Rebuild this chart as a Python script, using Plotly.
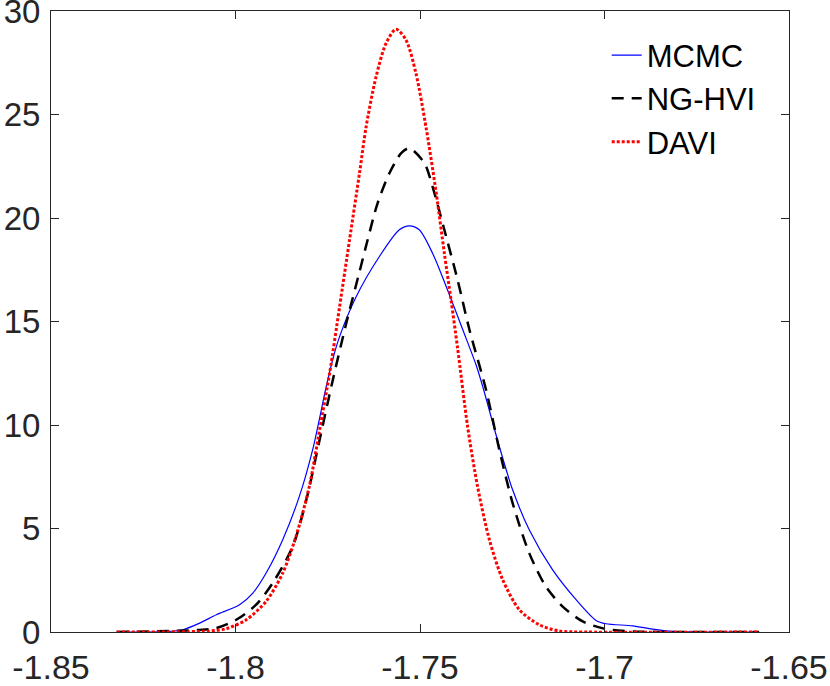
import plotly.graph_objects as go

# MCMC kernel density
mcmc_x = [-1.8322, -1.8187, -1.8143, -1.8097, -1.8052, -1.7989, -1.7953, -1.7917, -1.7872,
          -1.7827, -1.7791, -1.7754, -1.7736, -1.7718, -1.7673, -1.7610, -1.7556, -1.7529,
          -1.7502, -1.7466, -1.7429, -1.7384, -1.7348, -1.7330, -1.7285, -1.7249, -1.7204,
          -1.7141, -1.7077, -1.7023, -1.6996, -1.6924, -1.6870, -1.6816, -1.6743, -1.6581]
mcmc_y = [0, 0.02, 0.11, 0.43, 0.83, 1.32, 1.88, 2.85, 4.46,
          6.55, 8.80, 11.86, 13.2, 14.27, 16.2, 18.14, 19.43, 19.62,
          19.43, 18.3, 16.69, 14.6, 12.9, 11.86, 8.96, 6.87, 4.94,
          3.01, 1.56, 0.56, 0.40, 0.30, 0.14, 0.03, 0.0, 0]

# NG-HVI density
nghvi_x = [-1.8322, -1.8097, -1.8052, -1.7998, -1.7944, -1.7899, -1.7845, -1.7808, -1.7772,
           -1.7736, -1.7700, -1.7664, -1.7642, -1.7615, -1.7583, -1.7551, -1.7529,
           -1.7488, -1.7466, -1.7434, -1.7398, -1.7366, -1.7321, -1.7285, -1.7249, -1.7204,
           -1.7159, -1.7114, -1.7059, -1.6996, -1.6924, -1.6816, -1.6581]
nghvi_y = [0, 0.1, 0.19, 0.59, 1.32, 2.37, 4.13, 6.39, 9.29,
           12.2, 14.9, 17.4, 18.94, 20.71, 22.16, 23.13, 23.37,
           22.65, 21.52, 19.43, 17.0, 14.6, 11.7, 8.8, 6.23, 3.81,
           2.2, 1.24, 0.51, 0.14, 0.03, 0, 0]

# DAVI density
davi_x = [-1.8322, -1.8070, -1.8025, -1.7971, -1.7917, -1.7872, -1.7836, -1.7800, -1.7772,
          -1.7745, -1.7718, -1.7691, -1.7664, -1.7646, -1.7619, -1.7592, -1.7565,
          -1.7538, -1.7511, -1.7483, -1.7456, -1.7434, -1.7416, -1.7398, -1.7371, -1.7344,
          -1.7312, -1.7276, -1.7231, -1.7177, -1.7123, -1.7050, -1.6581]
davi_y = [0, 0.05, 0.16, 0.59, 1.48, 2.85, 4.62, 7.03, 9.77,
          12.5, 15.7, 18.94, 22.16, 24.41, 26.83, 28.44, 29.12,
          28.6, 26.99, 24.31, 21.2, 18.3, 16.05, 13.7, 9.93, 7.03,
          4.46, 2.53, 1.08, 0.35, 0.05, 0, 0]

x_ticks = [-1.85, -1.8, -1.75, -1.7, -1.65]
x_tick_labels = ["-1.85", "-1.8", "-1.75", "-1.7", "-1.65"]
y_ticks = [0, 5, 10, 15, 20, 25, 30]
y_tick_labels = ["0", "5", "10", "15", "20", "25", "30"]

AX = "#262626"
FONT = "Liberation Sans, Arial, sans-serif"

fig = go.Figure()
fig.add_trace(go.Scatter(x=mcmc_x, y=mcmc_y, mode="lines", name="MCMC",
                         line=dict(color="#0000ff", width=1.2, shape="spline", smoothing=0.8)))
fig.add_trace(go.Scatter(x=nghvi_x, y=nghvi_y, mode="lines", name="NG-HVI",
                         line=dict(color="#000000", width=2.5, dash="12px,8px",
                                   shape="spline", smoothing=0.8)))
fig.add_trace(go.Scatter(x=davi_x, y=davi_y, mode="lines", name="DAVI",
                         line=dict(color="#ff0000", width=3, dash="3px,2px",
                                   shape="spline", smoothing=0.8)))

fig.update_layout(
    width=830, height=686,
    margin=dict(l=51, r=41, t=11, b=54, autoexpand=False),
    paper_bgcolor="white", plot_bgcolor="white",
    font=dict(family=FONT, size=32, color=AX),
    showlegend=True,
    legend=dict(x=0.753, y=0.972, xanchor="left", yanchor="top",
                bgcolor="rgba(0,0,0,0)", borderwidth=0,
                font=dict(family=FONT, size=31, color="#000000"),
                tracegroupgap=0, itemwidth=30),
)
fig.update_xaxes(range=[-1.85, -1.65], tickvals=x_ticks, ticktext=x_tick_labels,
                 automargin=False, ticklabeloverflow="allow",
                 showgrid=False, zeroline=False, showline=True, linecolor=AX, linewidth=1,
                 mirror="ticks", ticks="inside", ticklen=8, tickcolor=AX, tickwidth=1,
                 ticklabelstandoff=5,
                 tickfont=dict(family=FONT, size=34, color=AX))
fig.update_yaxes(range=[0, 30], tickvals=y_ticks, ticktext=y_tick_labels,
                 automargin=False, ticklabeloverflow="allow",
                 showgrid=False, zeroline=False, showline=True, linecolor=AX, linewidth=1,
                 mirror="ticks", ticks="inside", ticklen=8, tickcolor=AX, tickwidth=1,
                 ticklabelstandoff=3,
                 tickfont=dict(family=FONT, size=33, color=AX))

fig.write_html("out.html", config={"displayModeBar": False},
               post_script="document.body.style.margin='0px';document.body.style.padding='0px';")
